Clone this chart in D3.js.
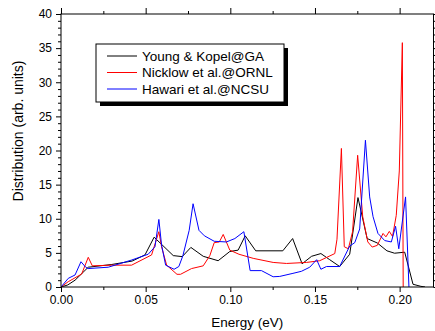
<!DOCTYPE html>
<html>
<head>
<meta charset="utf-8">
<script src="https://cdn.jsdelivr.net/npm/d3@7"></script>
<style>
  body { margin: 0; background: #fff; }
  svg { display: block; font-family: "Liberation Sans", Arial, sans-serif; }
</style>
</head>
<body>
<svg id="chart" width="435" height="331"></svg>
<script>
// Series values: [energy (eV), distribution]
const seriesNames = ["Young & Kopel@GA", "Nicklow et al.@ORNL", "Hawari et al.@NCSU"];
const seriesColors = ["#000000", "#ff0000", "#0000ff"];

const youngKopel = [
  [0, 0], [0.004, 0.3], [0.0083, 1.0], [0.0161, 2.9], [0.03, 3.3], [0.042, 3.8],
  [0.0496, 4.7], [0.055, 7.3], [0.0663, 4.6], [0.0716, 4.45], [0.0767, 5.8], [0.084, 4.5],
  [0.0928, 3.85], [0.0997, 5.2], [0.1046, 5.4], [0.1088, 7.5], [0.115, 5.3], [0.131, 5.3],
  [0.1368, 7.1], [0.1424, 3.4], [0.148, 4.5], [0.1535, 4.9], [0.1587, 4.0], [0.1646, 3.0],
  [0.1705, 4.8], [0.1754, 13.1], [0.1808, 7.1], [0.1868, 6.45], [0.1925, 5.3], [0.197, 4.95],
  [0.203, 5.1], [0.2079, 0.4], [0.2125, 0.1], [0.215, 0]
];

const nicklow = [
  [0, 0], [0.0043, 0.78], [0.0122, 1.9], [0.0161, 4.35], [0.0185, 3.1], [0.03, 3.2],
  [0.0417, 3.2], [0.0535, 4.7], [0.0578, 8.1], [0.0594, 5.9], [0.0624, 3.2], [0.0685, 1.86],
  [0.0706, 1.86], [0.0771, 2.7], [0.084, 3.1], [0.0879, 4.6], [0.0905, 6.5], [0.0935, 6.6],
  [0.0958, 7.7], [0.0997, 5.4], [0.1051, 4.8], [0.1135, 4.2], [0.1253, 3.6], [0.1332, 3.45],
  [0.145, 3.6], [0.1528, 3.85], [0.1617, 4.9], [0.163, 7.0], [0.1656, 20.3], [0.1673, 5.9],
  [0.1697, 5.6], [0.1722, 8.1], [0.1752, 19.3], [0.1782, 10.3], [0.1812, 6.6], [0.1838, 5.85],
  [0.1868, 6.1], [0.1902, 7.85], [0.1919, 7.35], [0.1939, 8.15], [0.1958, 7.4], [0.198, 10.5],
  [0.1998, 17], [0.2016, 35.8], [0.2021, 0]
];

const hawari = [
  [0, 0], [0.0043, 1.27], [0.0083, 1.76], [0.0118, 3.7], [0.0146, 2.9], [0.016, 2.7],
  [0.0279, 2.9], [0.0417, 3.95], [0.0515, 4.8], [0.0555, 5.9], [0.0578, 9.9], [0.0594, 6.15],
  [0.0618, 3.2], [0.0668, 2.6], [0.0696, 3.0], [0.072, 4.6], [0.0757, 8.3], [0.078, 12.2],
  [0.0815, 8.3], [0.0847, 7.5], [0.0905, 6.7], [0.0977, 6.6], [0.1027, 7.1], [0.108, 8.1],
  [0.1117, 2.4], [0.1184, 2.4], [0.1253, 1.5], [0.1292, 1.55], [0.137, 2.0], [0.142, 2.3],
  [0.1469, 2.9], [0.151, 4.0], [0.1535, 2.6], [0.1568, 3.0], [0.1646, 3.0], [0.1705, 6.0],
  [0.1735, 6.5], [0.1764, 8.5], [0.1798, 21.5], [0.1823, 13.2], [0.1843, 10.3], [0.1872, 7.85],
  [0.1912, 6.8], [0.1951, 6.6], [0.1976, 8.9], [0.1995, 5.6], [0.2035, 13.2], [0.2055, 0]
];

// Tick values
const xMajorTicks = [0, 0.05, 0.10, 0.15, 0.20];
const xMinorTicks = [0.025, 0.075, 0.125, 0.175];
const yMajorTicks = [0, 5, 10, 15, 20, 25, 30, 35, 40];
const yMinorTicks = d3.range(0, 41).filter(v => v % 5 !== 0);

const xDomain = [0, 0.22];
const yDomain = [0, 40];

// Plot frame in pixels
const frame = { left: 61, right: 433.5, top: 14, bottom: 287 };

const svg = d3.select("#chart");

const x = d3.scaleLinear().domain(xDomain).range([frame.left, frame.right]);
const y = d3.scaleLinear().domain(yDomain).range([frame.bottom, frame.top]);

/**
 * Draw an axis and strip its domain path
 */
function drawAxis(axis, transform, fontSize) {
  const g = svg.append("g")
    .attr("transform", transform)
    .call(axis);
  g.select(".domain").remove();
  g.selectAll("line").attr("stroke", "#000").attr("stroke-width", 1);
  g.selectAll("text")
    .attr("fill", "#000")
    .style("font-size", fontSize + "px")
    .style("font-family", '"Liberation Sans", Arial, sans-serif');
  return g;
}

// Bottom axis
drawAxis(d3.axisBottom(x).tickValues(xMajorTicks).tickSize(5).tickPadding(3)
  .tickFormat(d3.format(".2f")), `translate(0,${frame.bottom})`, 12);
drawAxis(d3.axisBottom(x).tickValues(xMinorTicks).tickSize(3).tickFormat(""),
  `translate(0,${frame.bottom})`, 12);

// Top axis (no labels)
drawAxis(d3.axisTop(x).tickValues(xMajorTicks).tickSize(6).tickFormat(""),
  `translate(0,${frame.top})`, 12);
drawAxis(d3.axisTop(x).tickValues(xMinorTicks).tickSize(3).tickFormat(""),
  `translate(0,${frame.top})`, 12);

// Left axis
drawAxis(d3.axisLeft(y).tickValues(yMajorTicks).tickSize(5).tickPadding(4)
  .tickFormat(d3.format("d")), `translate(${frame.left},0)`, 12);
drawAxis(d3.axisLeft(y).tickValues(yMinorTicks).tickSize(3).tickFormat(""),
  `translate(${frame.left},0)`, 12);

// Right axis (no labels)
drawAxis(d3.axisRight(y).tickValues(yMajorTicks).tickSize(4).tickFormat(""),
  `translate(${frame.right},0)`, 12);
drawAxis(d3.axisRight(y).tickValues(yMinorTicks).tickSize(3).tickFormat(""),
  `translate(${frame.right},0)`, 12);

// Clip for the data lines
svg.append("clipPath").attr("id", "plot-clip")
  .append("rect")
  .attr("x", frame.left).attr("y", frame.top)
  .attr("width", frame.right - frame.left)
  .attr("height", frame.bottom - frame.top);

const line = d3.line()
  .x(d => x(d[0]))
  .y(d => y(d[1]));

const allSeries = [youngKopel, nicklow, hawari];

svg.append("g")
  .attr("clip-path", "url(#plot-clip)")
  .selectAll("path")
  .data(allSeries)
  .enter().append("path")
  .attr("d", line)
  .attr("fill", "none")
  .attr("stroke", (d, i) => seriesColors[i])
  .attr("stroke-width", 1)
  .attr("stroke-linejoin", "round");

// Frame
svg.append("rect")
  .attr("x", frame.left).attr("y", frame.top)
  .attr("width", frame.right - frame.left)
  .attr("height", frame.bottom - frame.top)
  .attr("fill", "none")
  .attr("stroke", "#000")
  .attr("stroke-width", 1);

// Legend with drop shadow
const legendBox = { x: 96, y: 44, w: 188, h: 58, shadow: 4 };
svg.append("rect")
  .attr("x", legendBox.x + legendBox.shadow).attr("y", legendBox.y + legendBox.shadow)
  .attr("width", legendBox.w).attr("height", legendBox.h)
  .attr("fill", "#000");
svg.append("rect")
  .attr("x", legendBox.x).attr("y", legendBox.y)
  .attr("width", legendBox.w).attr("height", legendBox.h)
  .attr("fill", "#fff")
  .attr("stroke", "#000")
  .attr("stroke-width", 1);

const legend = svg.selectAll(".legend-item")
  .data(seriesNames)
  .enter().append("g")
  .attr("class", "legend-item")
  .attr("transform", (d, i) => `translate(${legendBox.x + 11}, ${legendBox.y + 12 + i * 16.5})`);

legend.append("line")
  .attr("x1", 0).attr("x2", 30)
  .attr("y1", 0).attr("y2", 0)
  .attr("stroke", (d, i) => seriesColors[i])
  .attr("stroke-width", 1);

legend.append("text")
  .attr("x", 35)
  .attr("y", 0)
  .attr("dy", "0.36em")
  .style("font-size", "13.5px")
  .text(d => d);

// Axis titles
svg.append("text")
  .attr("x", (frame.left + frame.right) / 2)
  .attr("y", 327)
  .attr("text-anchor", "middle")
  .style("font-size", "13.5px")
  .text("Energy (eV)");

svg.append("text")
  .attr("transform", "translate(23,131) rotate(-90)")
  .attr("text-anchor", "middle")
  .style("font-size", "14px")
  .text("Distribution (arb. units)");
</script>
</body>
</html>
